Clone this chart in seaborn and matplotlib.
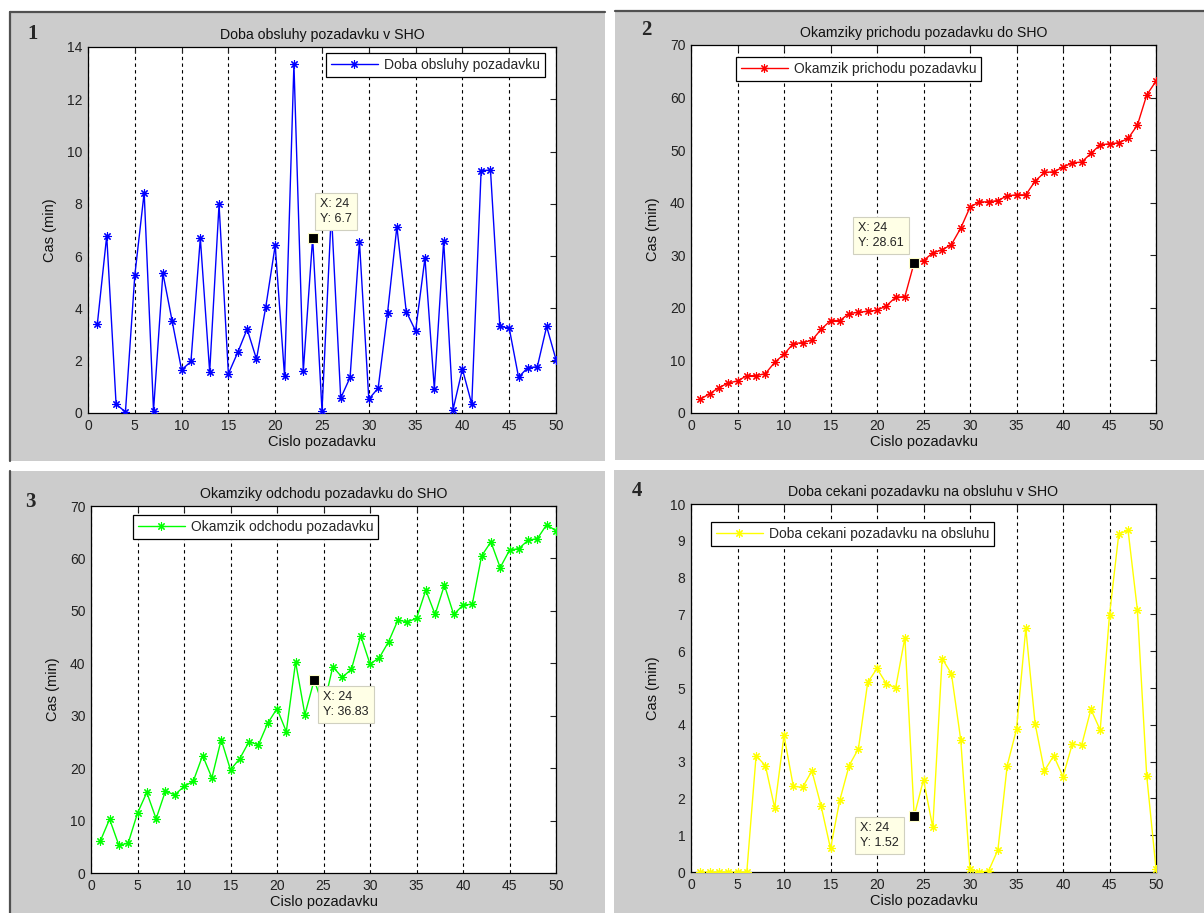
import numpy as np
import pandas as pd
import matplotlib
matplotlib.use("Agg")
import matplotlib.pyplot as plt
from matplotlib.patches import Rectangle
from matplotlib.lines import Line2D
import seaborn as sns

sns.set_style("white")
plt.rcParams['font.family'] = ['Liberation Sans', 'DejaVu Sans']

# ---------------- data ----------------
request_no = list(range(1, 51))

service_time = [3.41, 6.78, 0.34, 0.04, 5.26, 8.43, 0.09, 5.35, 3.50, 1.65,
                1.97, 6.69, 1.57, 7.98, 1.50, 2.32, 3.21, 2.06, 4.07, 6.41,
                1.40, 13.35, 1.59, 6.70, 0.09, 7.68, 0.57, 1.36, 6.55, 0.53,
                0.95, 3.82, 7.13, 3.88, 3.14, 5.93, 0.93, 6.59, 0.13, 1.68,
                0.34, 9.27, 9.29, 3.31, 3.25, 1.37, 1.74, 1.76, 3.31, 2.04]

arrival_time = [2.60, 3.68, 4.82, 5.71, 6.09, 7.10, 7.10, 7.49, 9.64, 11.17,
                13.20, 13.39, 13.83, 15.93, 17.58, 17.58, 18.91, 19.16, 19.35, 19.54,
                20.37, 22.02, 22.14, 28.61, 29.00, 30.46, 31.03, 32.04, 35.15, 39.15,
                40.16, 40.16, 40.42, 41.31, 41.50, 41.50, 44.10, 45.75, 45.88, 46.76,
                47.59, 47.72, 49.37, 51.02, 51.20, 51.40, 52.22, 54.76, 60.47, 63.13]

departure_time = [6.09, 10.28, 5.27, 5.71, 11.42, 15.36, 10.34, 15.61, 14.91, 16.50,
                  17.52, 22.40, 18.15, 25.45, 19.67, 21.83, 25.07, 24.43, 28.56, 31.35,
                  26.97, 40.24, 30.21, 36.83, 31.60, 39.35, 37.32, 38.84, 45.25, 39.86,
                  41.06, 44.11, 48.23, 47.92, 48.55, 53.94, 49.31, 54.90, 49.31, 51.09,
                  51.28, 60.48, 63.15, 58.26, 61.56, 61.88, 63.46, 63.78, 66.45, 65.24]

waiting_time = [0.0, 0.0, 0.0, 0.0, 0.0, 0.0, 3.16, 2.89, 1.74, 3.71,
                2.33, 2.30, 2.75, 1.78, 0.64, 1.95, 2.89, 3.35, 5.15, 5.53,
                5.12, 5.00, 6.37, 1.52, 2.51, 1.21, 5.80, 5.39, 3.60, 0.07,
                0.00, 0.03, 0.60, 2.89, 3.88, 6.62, 4.03, 2.75, 3.16, 2.59,
                3.48, 3.44, 4.42, 3.86, 6.98, 9.19, 9.28, 7.12, 2.62, 0.09]

titles = ["Doba obsluhy pozadavku v SHO",
          "Okamziky prichodu pozadavku do SHO",
          "Okamziky odchodu pozadavku do SHO",
          "Doba cekani pozadavku na obsluhu v SHO"]
legend_labels = ["Doba obsluhy pozadavku",
                 "Okamzik prichodu pozadavku",
                 "Okamzik odchodu pozadavku",
                 "Doba cekani pozadavku na obsluhu"]
panel_numbers = ["1", "2", "3", "4"]
x_label = "Cislo pozadavku"
y_label = "Cas (min)"
x_ticks = list(range(0, 51, 5))
y_limits = [14, 70, 70, 10]
y_steps = [2, 10, 10, 1]
tip_request = 24

series = [service_time, arrival_time, departure_time, waiting_time]
colors = ["#0000ff", "#ff0000", "#00ff00", "#ffff00"]

# ---------------- layout (pixels) ----------------
W, H = 1204, 913
fig = plt.figure(figsize=(W / 100, H / 100), dpi=100)
fig.patch.set_facecolor("white")


def fx(px):
    return px / W


def fy(py):
    return 1 - py / H


GRAY = "#cccccc"
BORDER = "#505050"
panels_px = [(10, 12, 605, 461), (615, 11, 1204, 460),
             (10, 471, 605, 913), (614, 470, 1204, 913)]
for (x0, y0, x1, y1) in panels_px:
    fig.add_artist(Rectangle((fx(x0), fy(y1)), fx(x1 - x0), (y1 - y0) / H,
                             transform=fig.transFigure, facecolor=GRAY,
                             edgecolor="none", zorder=-10))
border_lines = [((10, 605), (12, 12)), ((10, 10), (12, 461)),
                ((615, 1204), (11, 11)), ((10, 10), (471, 913))]
for xs, ys in border_lines:
    fig.add_artist(Line2D([fx(xs[0]), fx(xs[1])], [fy(ys[0]), fy(ys[1])],
                          transform=fig.transFigure, color=BORDER, lw=1.6,
                          zorder=-9))

axes_px = [(88, 47, 556, 413), (691, 45, 1156, 413),
           (91, 506, 556, 873), (691, 504, 1156, 872)]
legend_px = [(326, 53), (736, 57), (133, 515), (711, 522)]
tip_px = [(315, 194), (853, 218), (318, 687), (855, 818)]
number_px = [(33, 34), (646, 30), (30, 502), (637, 491)]

for i in range(4):
    x0, y0, x1, y1 = axes_px[i]
    ax = fig.add_axes([fx(x0), fy(y1), fx(x1 - x0), (y1 - y0) / H], zorder=1)
    ax.set_facecolor("white")
    df = pd.DataFrame({"n": request_no, "v": series[i]})
    sns.lineplot(data=df, x="n", y="v", ax=ax, color=colors[i], lw=1.0,
                 marker=(8, 2, 0), markersize=6, markeredgewidth=0.8,
                 markeredgecolor=colors[i], label=legend_labels[i], zorder=3)
    ax.set_xlim(0, 50)
    ax.set_ylim(0, y_limits[i])
    ax.set_xticks(x_ticks)
    yt = np.arange(0, y_limits[i] + 0.001, y_steps[i])
    ax.set_yticks(yt)
    ax.set_yticklabels([f"{v:g}" for v in yt])
    ax.tick_params(direction="in", length=4, width=0.8, top=True, right=True,
                   labelsize=10, colors="#222222", pad=4)
    ax.xaxis.grid(True, linestyle=(0, (3, 3)), color="black", lw=0.8)
    ax.yaxis.grid(False)
    for s in ax.spines.values():
        s.set_color("black")
        s.set_linewidth(0.9)
    ax.set_title(titles[i], fontsize=10.2, pad=6, color="#111111")
    ax.set_xlabel(x_label, fontsize=10.5, labelpad=2, color="#111111")
    ax.set_ylabel(y_label, fontsize=10.5, labelpad=7, color="#111111")

    lx, ly = legend_px[i]
    leg = ax.legend(loc="upper left", bbox_to_anchor=(fx(lx), fy(ly)),
                    bbox_transform=fig.transFigure, fontsize=10,
                    frameon=True, fancybox=False, framealpha=1,
                    edgecolor="black", handlelength=3.4, borderpad=0.35,
                    handletextpad=0.4, borderaxespad=0)
    leg.get_frame().set_linewidth(0.9)

    idx = request_no.index(tip_request)
    ax.plot([request_no[idx]], [series[i][idx]], marker="s", color="black",
            markersize=7, markeredgecolor="#ffffcc", markeredgewidth=0.8,
            linestyle="none", zorder=5, clip_on=False)
    tx, ty = tip_px[i]
    fig.text(fx(tx + 5), fy(ty + 4), f"X: {request_no[idx]}\nY: {series[i][idx]:g}",
             fontsize=9, va="top", ha="left", color="#222222", linespacing=1.35,
             bbox=dict(boxstyle="square,pad=0.4", facecolor="#ffffe6",
                       edgecolor="#d0d0c0", lw=0.8), zorder=6)

    nx, ny = number_px[i]
    fig.text(fx(nx), fy(ny), panel_numbers[i], fontsize=15, fontweight="bold",
             family=["Liberation Serif", "DejaVu Serif"], ha="center", va="center")

fig.savefig("out.png", dpi=100, facecolor="white")
